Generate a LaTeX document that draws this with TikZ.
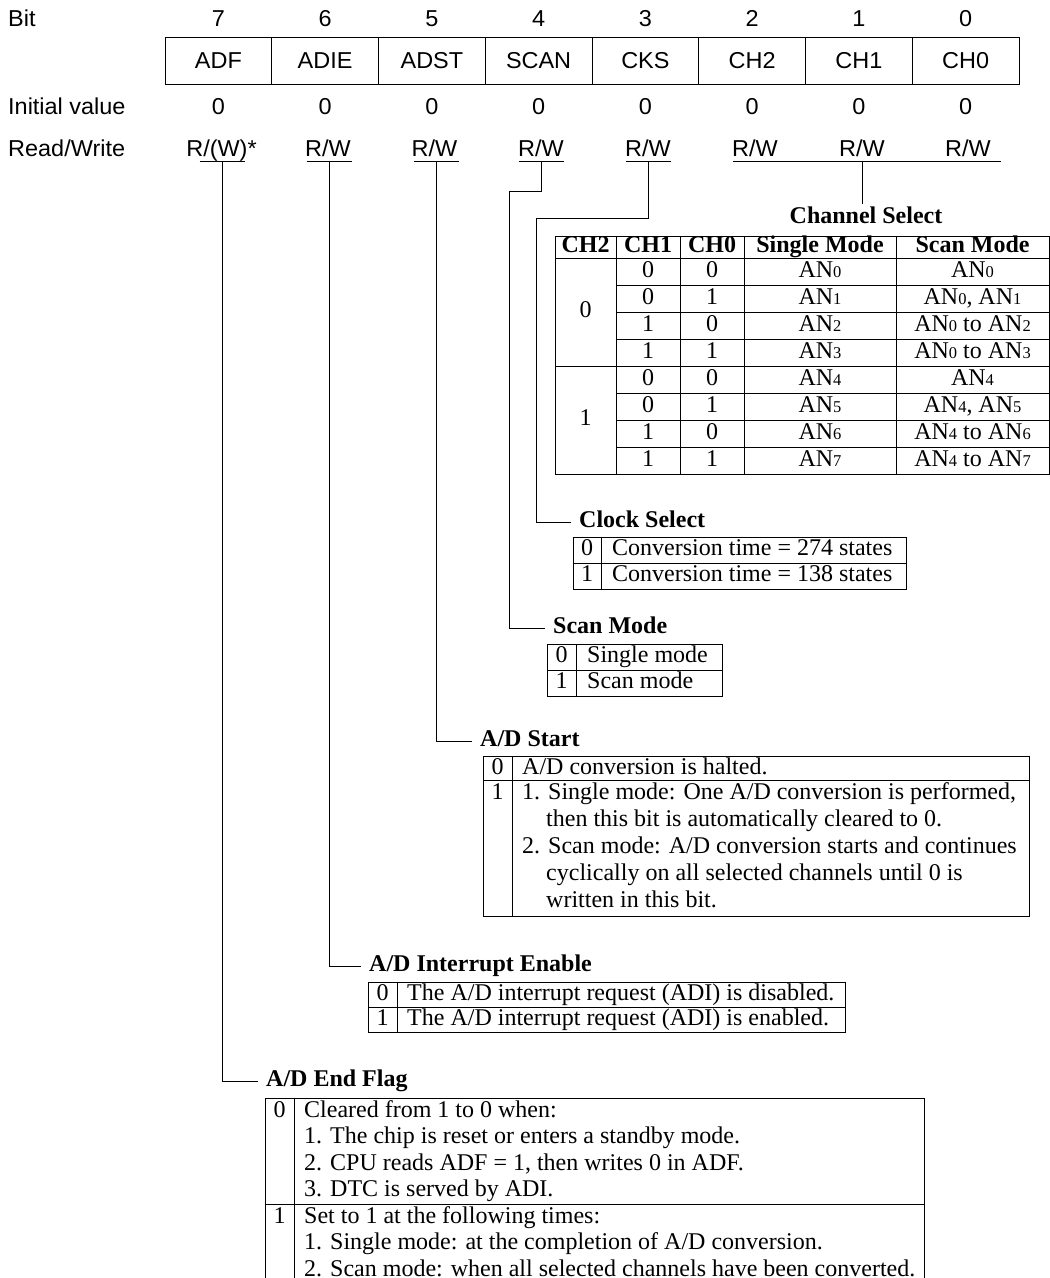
\documentclass[tikz,border=0pt]{standalone}
\usepackage{fontspec}
\setmainfont{Liberation Serif}
\newfontfamily\hdrfont[FakeStretch=1.02]{Liberation Sans}
\newcommand\ansub[1]{{\fontsize{16.5}{16.5}\selectfont #1}}
\tikzset{
  ln/.style={line width=0.9pt, draw=black},
  hdr/.style={font=\hdrfont\fontsize{23}{25}\selectfont, inner sep=0pt},
  regcell/.style={hdr, draw, line width=0.9pt, minimum width=106.75pt, minimum height=47pt},
  txt/.style={font=\fontsize{24}{27}\selectfont, inner sep=0pt, text height=16pt, text depth=5pt},
  btxt/.style={font=\bfseries\fontsize{24}{27}\selectfont, inner sep=0pt, text height=16pt, text depth=5pt},
  ttl/.style={font=\bfseries\fontsize{24}{27}\selectfont, inner xsep=8pt, inner ysep=0pt, text height=16pt, text depth=5pt},
  cell/.style={txt, anchor=center},
  lntext/.style={txt, anchor=west},
}
\begin{document}
\begin{tikzpicture}[x=1pt,y=-1pt]
\useasboundingbox (0,0) rectangle (1050,1278);
% ---------------- register header ----------------
\node[hdr,anchor=base west] (lbit) at (8,26) {Bit};
\node[hdr,anchor=base west] (liv) at (8,114) {Initial value};
\node[hdr,anchor=base west] (lrw) at (8,156.5) {Read/Write};
\foreach \i/\x/\n in {7/218.4/ADF,6/325.1/ADIE,5/431.9/ADST,4/538.6/SCAN,3/645.4/CKS,2/752.1/CH2,1/858.9/CH1,0/965.6/CH0}{
  \node[hdr,anchor=base] (b\i) at (\x,26) {\i};
  \node[regcell] (c\i) at (\x,60.5) {\n};
  \node[hdr,anchor=base] (iv\i) at (\x,114) {0};
}
\node[hdr,anchor=base] (rw7) at (221.5,156.5) {R/(W)*};
\foreach \i/\x in {6/328,5/434.5,4/541,3/648,2/755,1/862,0/968}
  \node[hdr,anchor=base] (rw\i) at (\x,156.5) {R/W};
% underlines
\foreach \i/\x in {7/222,6/329,5/436,4/541,3/648}{
  \coordinate (u\i) at (\x,161);
  \draw[ln] ([xshift=-22.5pt]u\i) -- ([xshift=22.5pt]u\i);
}
\coordinate (uch) at (862,161);
\draw[ln] ([xshift=-129pt]uch) -- ([xshift=139pt]uch);
% ---------------- titles ----------------
\node[btxt,anchor=center] (tch) at (866,218) {Channel Select};
\node[ttl,anchor=west] (t3) at (571,522) {Clock Select};
\node[ttl,anchor=west] (t4) at (545,628) {Scan Mode};
\node[ttl,anchor=west] (t5) at (472,741) {A/D Start};
\node[ttl,anchor=west] (t6) at (361,966) {A/D Interrupt Enable};
\node[ttl,anchor=west] (t7) at (258,1081) {A/D End Flag};
% ---------------- connectors ----------------
\coordinate (k4a) at (541,191); \coordinate (k4b) at (509,191);
\coordinate (k3a) at (648,218); \coordinate (k3b) at (536,218);
\draw[ln] (uch) -- ([yshift=3pt]uch |- tch.north);
\draw[ln] (u3) -- (k3a) -- (k3b) |- (t3.west);
\draw[ln] (u4) -- (k4a) -- (k4b) |- (t4.west);
\draw[ln] (u5) |- (t5.west);
\draw[ln] (u6) |- (t6.west);
\draw[ln] (u7) |- (t7.west);
% ---------------- Channel Select table ----------------
\draw[ln] (555,236) rectangle (1049,474);
\foreach \x in {616,680,744,896} \draw[ln] (\x,236) -- (\x,474);
\draw[ln] (555,258) -- (1049,258);
\draw[ln] (555,366) -- (1049,366);
\foreach \y in {285,312,339,393,420,447} \draw[ln] (616,\y) -- (1049,\y);
\node[btxt] (hch2) at (585.5,247) {CH2};
\node[btxt] (hch1) at (648,247) {CH1};
\node[btxt] (hch0) at (712,247) {CH0};
\node[btxt] (hsm) at (820,247) {Single Mode};
\node[btxt] (hscm) at (972.5,247) {Scan Mode};
\node[cell] (cg0) at (585.5,312) {0};
\node[cell] (cg1) at (585.5,420) {1};
\foreach \k/\a/\b/\s/\m in {
  0/0/0/{AN\ansub0}/{AN\ansub0},
  1/0/1/{AN\ansub1}/{AN\ansub0, AN\ansub1},
  2/1/0/{AN\ansub2}/{AN\ansub0 to AN\ansub2},
  3/1/1/{AN\ansub3}/{AN\ansub0 to AN\ansub3},
  4/0/0/{AN\ansub4}/{AN\ansub4},
  5/0/1/{AN\ansub5}/{AN\ansub4, AN\ansub5},
  6/1/0/{AN\ansub6}/{AN\ansub4 to AN\ansub6},
  7/1/1/{AN\ansub7}/{AN\ansub4 to AN\ansub7}}{
  \node[cell] (ra\k) at (648,{271.5+27*\k}) {\a};
  \node[cell] (rb\k) at (712,{271.5+27*\k}) {\b};
  \node[cell] (rs\k) at (820,{271.5+27*\k}) {\s};
  \node[cell] (rm\k) at (972.5,{271.5+27*\k}) {\m};
}
% ---------------- Clock Select table ----------------
\draw[ln] (573,537) rectangle (906,589);
\draw[ln] (573,563) -- (906,563);
\draw[ln] (601,537) -- (601,589);
\node[cell] (ck0) at (587,550) {0};
\node[lntext] (ck0t) at (612,550) {Conversion time = 274 states};
\node[cell] (ck1) at (587,576) {1};
\node[lntext] (ck1t) at (612,576) {Conversion time = 138 states};
% ---------------- Scan Mode table ----------------
\draw[ln] (547,644) rectangle (722,696);
\draw[ln] (547,670) -- (722,670);
\draw[ln] (576,644) -- (576,696);
\node[cell] (sc0) at (561.5,657) {0};
\node[lntext] (sc0t) at (587,657) {Single mode};
\node[cell] (sc1) at (561.5,683) {1};
\node[lntext] (sc1t) at (587,683) {Scan mode};
% ---------------- A/D Start table ----------------
\draw[ln] (483,756) rectangle (1029,916);
\draw[ln] (483,780) -- (1029,780);
\draw[ln] (512,756) -- (512,916);
\node[cell] (st0) at (497.5,768.5) {0};
\node[lntext] (st0t) at (522,768.5) {A/D conversion is halted.};
\node[cell] (st1) at (497.5,794) {1};
\node[lntext] (st1a) at (522,794) {1. Single mode: One A/D conversion is performed,};
\node[lntext] (st1b) at (546,821) {then this bit is automatically cleared to 0.};
\node[lntext] (st1c) at (522,848) {2. Scan mode: A/D conversion starts and continues};
\node[lntext] (st1d) at (546,875) {cyclically on all selected channels until 0 is};
\node[lntext] (st1e) at (546,902) {written in this bit.};
% ---------------- A/D Interrupt Enable table ----------------
\draw[ln] (368,982) rectangle (845,1032);
\draw[ln] (368,1007) -- (845,1007);
\draw[ln] (397,982) -- (397,1032);
\node[cell] (ie0) at (382.5,995) {0};
\node[lntext] (ie0t) at (407,995) {The A/D interrupt request (ADI) is disabled.};
\node[cell] (ie1) at (382.5,1020) {1};
\node[lntext] (ie1t) at (407,1020) {The A/D interrupt request (ADI) is enabled.};
% ---------------- A/D End Flag table ----------------
\draw[ln] (265,1278) -- (265,1098) -- (924,1098) -- (924,1278);
\draw[ln] (265,1204) -- (924,1204);
\draw[ln] (294,1098) -- (294,1278);
\node[cell] (ef0) at (279.5,1111.5) {0};
\node[lntext] (ef0a) at (304,1111.5) {Cleared from 1 to 0 when:};
\node[lntext] (ef0b) at (304,1138) {1. The chip is reset or enters a standby mode.};
\node[lntext] (ef0c) at (304,1164.5) {2. CPU reads ADF = 1, then writes 0 in ADF.};
\node[lntext] (ef0d) at (304,1191) {3. DTC is served by ADI.};
\node[cell] (ef1) at (279.5,1217.5) {1};
\node[lntext] (ef1a) at (304,1217.5) {Set to 1 at the following times:};
\node[lntext] (ef1b) at (304,1244) {1. Single mode: at the completion of A/D conversion.};
\node[lntext] (ef1c) at (304,1270.5) {2. Scan mode: when all selected channels have been converted.};
\end{tikzpicture}
\end{document}
